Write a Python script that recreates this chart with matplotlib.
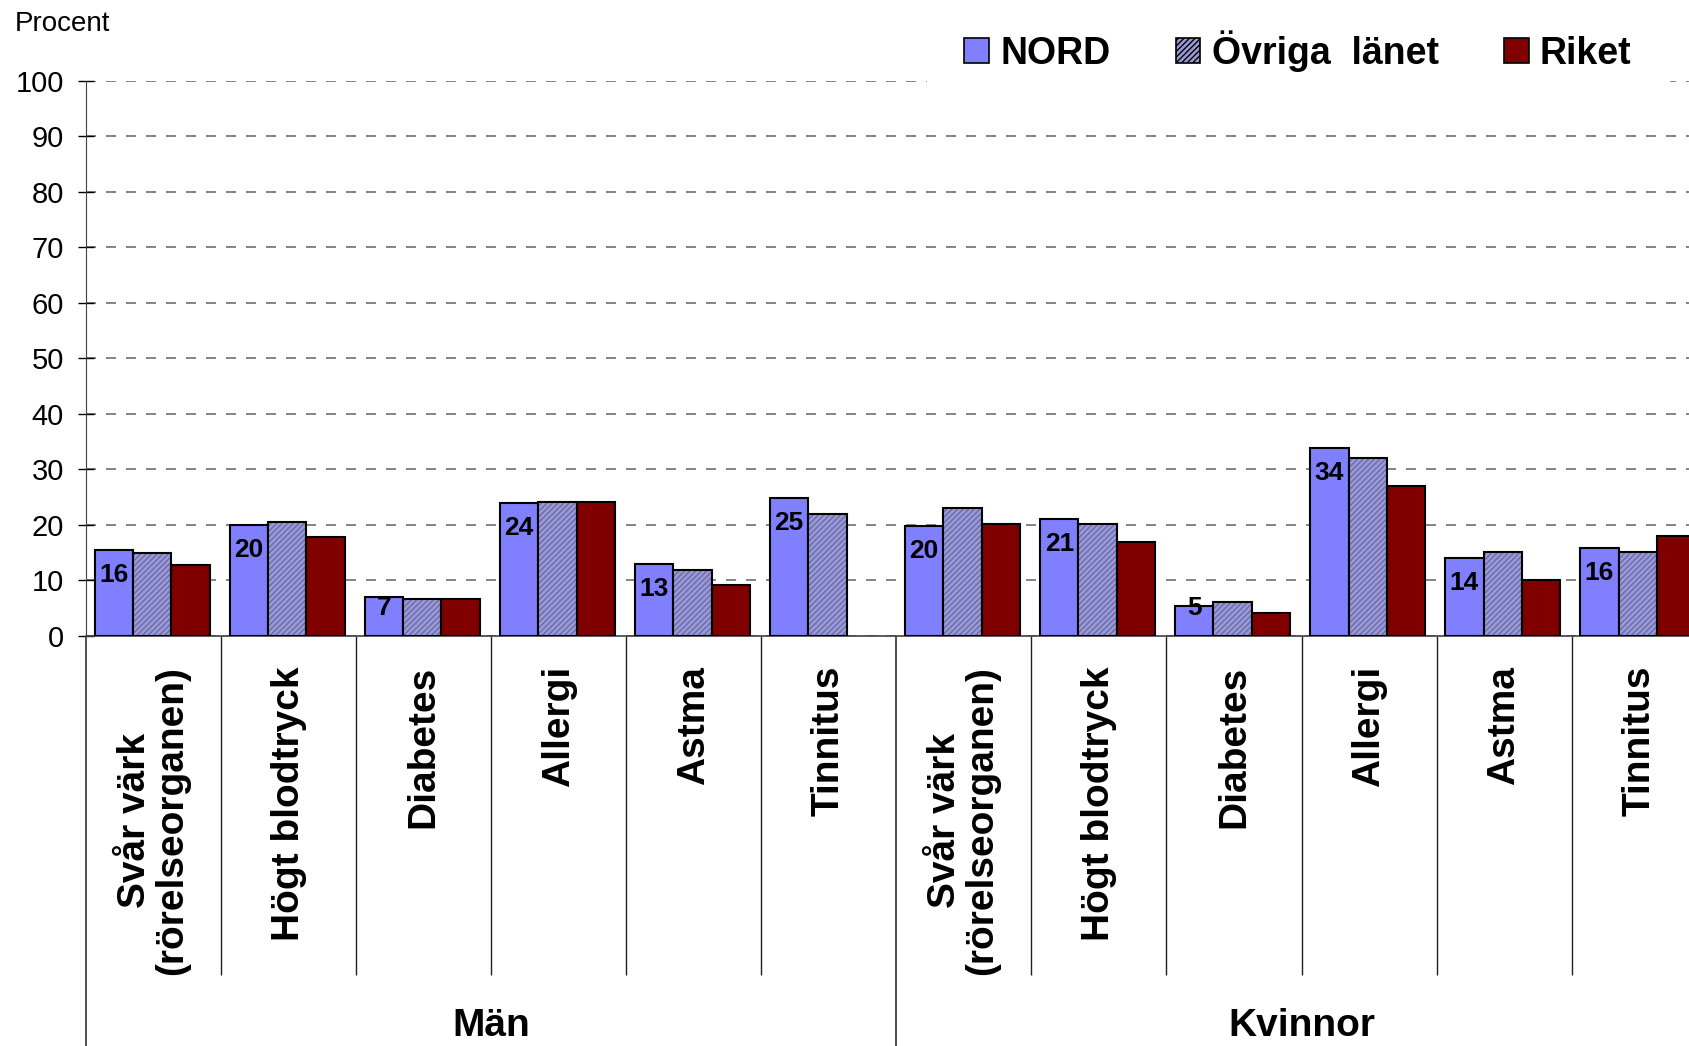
import numpy as np
import matplotlib
matplotlib.use("Agg")
import matplotlib.pyplot as plt
from matplotlib.patches import Patch

plt.rcParams['font.family'] = ['Liberation Sans', 'DejaVu Sans']

# data
groups = ["Män", "Kvinnor"]
categories = ["Svår värk\n(rörelseorganen)", "Högt blodtryck", "Diabetes",
              "Allergi", "Astma", "Tinnitus"]
nord = [15.5, 20.0, 7.1, 23.9, 13.0, 24.9,
        19.8, 21.0, 5.4, 33.8, 14.0, 15.9]
ovriga = [15.0, 20.6, 6.7, 24.2, 11.8, 21.9,
          23.1, 20.2, 6.2, 32.0, 15.1, 15.1]
riket = [12.8, 17.8, 6.7, 24.2, 9.1, np.nan,
         20.2, 16.9, 4.1, 27.0, 10.0, 18.0]
series_names = ["NORD", "Övriga  länet", "Riket"]
yticks = list(range(0, 101, 10))

c_nord = "#8080FF"
c_ovr = "#9A9AD8"
c_ovr_hatch = "#6B6BA8"
c_riket = "#800000"

fig = plt.figure(figsize=(16.9, 10.46), dpi=100)
ax = fig.add_axes([0.0509, 0.392, 0.959, 0.5306])

n = len(nord)
x = np.arange(n)
w = 0.284
sh = -0.01

ax.bar(x - w + sh, nord, w, color=c_nord, edgecolor="black", linewidth=1.5, zorder=3)
# hatched bars: fill + hatch first, outline afterwards
ax.bar(x + sh, ovriga, w, color=c_ovr, edgecolor=c_ovr_hatch, hatch="//////",
       linewidth=0, zorder=3)
ax.bar(x + sh, ovriga, w, fill=False, edgecolor="black", linewidth=1.5, zorder=4)
ax.bar(x + w + sh, riket, w, color=c_riket, edgecolor="black", linewidth=1.5, zorder=3)

# value labels on NORD bars
for xi, v in zip(x, nord):
    ax.text(xi - w + sh, max(v - 4.5, 5.0), "%.0f" % v, ha="center", va="center",
            fontsize=19, fontweight="bold", zorder=5)

ax.set_xlim(-0.5, n - 0.5)
ax.set_ylim(0, 100)
ax.set_yticks(yticks)
ax.tick_params(axis="y", labelsize=21, length=12, width=1, pad=10, direction="inout")
ax.set_xticks([])
ax.yaxis.grid(True, color="#707070", linestyle=(0, (6, 6)), linewidth=1.2, zorder=0)
ax.set_axisbelow(True)
for s in ["top", "right"]:
    ax.spines[s].set_visible(False)
ax.spines["left"].set_color("#404040")
ax.spines["bottom"].set_color("#404040")
ax.spines["bottom"].set_linewidth(1.2)

# category labels and separators below the axis
tr = ax.get_xaxis_transform()
for i in range(n):
    ax.text(x[i], -0.054, categories[i % len(categories)], transform=tr,
            rotation=90, ha="center", va="top", multialignment="center",
            fontsize=28, fontweight="bold", linespacing=1.05)
inner = [i - 0.5 for i in range(1, n) if i % len(categories) != 0]
outer = [-0.5, len(categories) - 0.5, n - 0.5]
ax.vlines(inner, -0.611, 0, transform=tr, colors="#202020", linewidth=1, clip_on=False)
ax.vlines(outer, -0.75, 0, transform=tr, colors="#404040", linewidth=1.3, clip_on=False)
for g, name in enumerate(groups):
    ax.text(g * len(categories) + (len(categories) - 1) / 2, -0.703, name, transform=tr,
            ha="center", va="center", fontsize=28, fontweight="bold")

fig.text(0.009, 1 - 24 / 1046, "Procent", fontsize=20, va="center", ha="left")

handles = [Patch(facecolor=c_nord, edgecolor="black", linewidth=1.2),
           Patch(facecolor=c_ovr, edgecolor="black", hatch="//////", linewidth=1.2),
           Patch(facecolor=c_riket, edgecolor="black", linewidth=1.2)]
leg = fig.legend(handles, series_names, loc="center", bbox_to_anchor=(0.768, 1 - 51 / 1046),
                 ncol=3, frameon=True, framealpha=1.0, prop={"weight": "bold", "size": 27},
                 handlelength=0.65, handleheight=0.65, handletextpad=0.3,
                 columnspacing=1.75, borderpad=1.0, fancybox=False)
leg.get_frame().set_edgecolor("white")
leg.get_frame().set_facecolor("white")

fig.savefig("out.png", dpi=100)
